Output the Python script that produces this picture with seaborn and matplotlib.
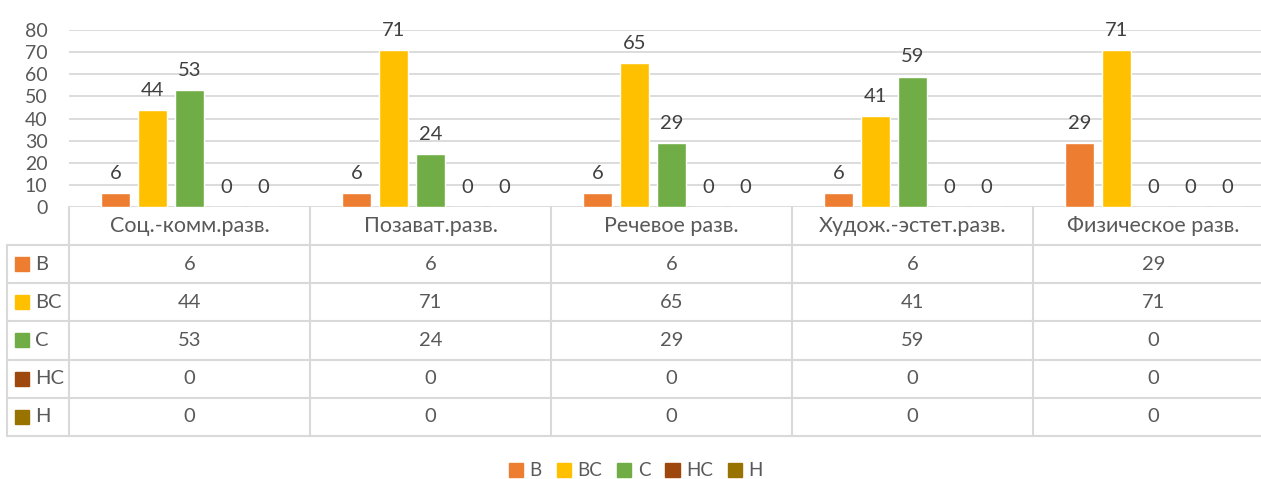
import numpy as np
import pandas as pd
import matplotlib
matplotlib.use('Agg')
import matplotlib.pyplot as plt
import seaborn as sns
from matplotlib.patches import Rectangle

categories = ['Соц.-комм.разв.', 'Позават.разв.', 'Речевое разв.', 'Худож.-эстет.разв.', 'Физическое разв.']
series = ['В', 'ВС', 'С', 'НС', 'Н']
vals_v = [6, 6, 6, 6, 29]
vals_vs = [44, 71, 65, 41, 71]
vals_s = [53, 24, 29, 59, 0]
vals_ns = [0, 0, 0, 0, 0]
vals_n = [0, 0, 0, 0, 0]
colors = ['#ED7D31', '#FFC000', '#70AD47', '#9E480E', '#997300']

all_vals = [vals_v, vals_vs, vals_s, vals_ns, vals_n]
df = pd.DataFrame({
    'cat': np.tile(categories, len(series)),
    'series': np.repeat(series, len(categories)),
    'val': np.concatenate(all_vals),
})

sns.set_style('white')
plt.rcParams['font.family'] = ['Lato', 'Open Sans', 'DejaVu Sans']

W, H = 1261, 479
fig = plt.figure(figsize=(W / 100, H / 100), dpi=100)

grid_c = '#D9D9D9'
txt_c = '#595959'
lbl_c = '#404040'

# pixel layout of the Excel-like chart
left, colw = 69, 241
y0, y80, tbot = 206.7, 30.3, 436.0

ax = fig.add_axes([left / W, 1 - y0 / H, 5 * colw / W, (y0 - y80) / H])
sns.barplot(data=df, x='cat', y='val', hue='series', palette=colors, saturation=1,
            width=0.77, gap=0.22, ax=ax, legend=False)
ax.set_xlim(-0.5, 4.5)
ax.set_ylim(0, 80)
ax.set_yticks(range(0, 81, 10))
ax.set_xticks([])
ax.set_xlabel('')
ax.set_ylabel('')
ax.set_axisbelow(True)
ax.yaxis.grid(True, color=grid_c, linewidth=1.3)
for s in ax.spines.values():
    s.set_visible(False)
ax.tick_params(axis='y', length=0, pad=15.5, labelsize=14, labelcolor=txt_c)
for cont in ax.containers:
    ax.bar_label(cont, fmt='%g', padding=8, fontsize=14.5, color=lbl_c)

# data table under the bars
tab = fig.add_axes([left / W, 1 - tbot / H, 5 * colw / W, (tbot - y0) / H])
tab.set_xlim(-0.5, 4.5)
tab.set_ylim(6, 0)
tab.axis('off')
lab_w = (left - 6.7) / colw
xl = -0.5 - lab_w
lw = 1.5
for r in range(1, 7):
    tab.plot([xl, 4.5], [r, r], color=grid_c, lw=lw, clip_on=False)
for k in range(6):
    tab.plot([-0.5 + k, -0.5 + k], [0, 6], color=grid_c, lw=lw, clip_on=False)
tab.plot([xl, xl], [1, 6], color=grid_c, lw=lw, clip_on=False)

for i, c in enumerate(categories):
    tab.text(i, 0.5, c, ha='center', va='center', fontsize=15.5, color=txt_c)
for r, (name, col, v) in enumerate(zip(series, colors, all_vals)):
    for i, val in enumerate(v):
        tab.text(i, r + 1.5, str(val), ha='center', va='center', fontsize=14.5, color=txt_c)
    sq_w = 14 / colw
    sq_h = 14 / ((tbot - y0) / 6)
    tab.add_patch(Rectangle((-0.5 - (left - 15) / colw, r + 1.5 - sq_h / 2), sq_w, sq_h,
                            color=col, clip_on=False))
    tab.text(-0.5 - (left - 35) / colw, r + 1.5, name, ha='left', va='center',
             fontsize=14.5, color=txt_c)

handles = [Rectangle((0, 0), 1, 1, color=c) for c in colors]
fig.legend(handles, series, loc='center', bbox_to_anchor=(636 / W, 1 - 471 / H), ncol=5,
           frameon=False, fontsize=13.5, labelcolor=txt_c, handlelength=0.75,
           handleheight=0.75, handletextpad=0.35, columnspacing=0.8)

fig.savefig('out.png', dpi=100)
